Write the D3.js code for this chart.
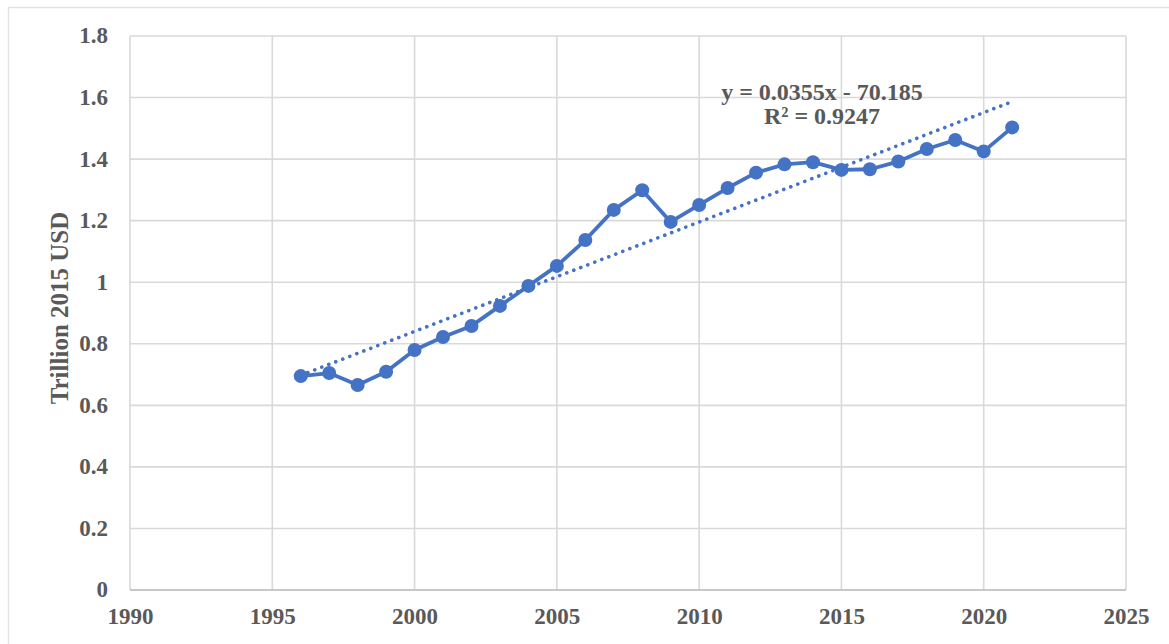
<!DOCTYPE html>
<html>
<head>
<meta charset="utf-8">
<script src="https://cdn.jsdelivr.net/npm/d3@7"></script>
<style>
  body { margin: 0; background: #fff; }
  text { font-family: "Liberation Serif", "Times New Roman", serif; font-weight: bold; fill: #595959; }
</style>
</head>
<body>
<div id="root"></div>
<script>
const years = [1996, 1997, 1998, 1999, 2000, 2001, 2002, 2003, 2004, 2005, 2006, 2007, 2008,
	2009, 2010, 2011, 2012, 2013, 2014, 2015, 2016, 2017, 2018, 2019, 2020, 2021];
const values = [0.695, 0.705, 0.666, 0.709, 0.780, 0.822, 0.858, 0.923, 0.988, 1.053, 1.137, 1.235, 1.299,
	1.196, 1.251, 1.306, 1.356, 1.383, 1.390, 1.365, 1.367, 1.392, 1.433, 1.462, 1.425, 1.503];
const xTicks = [1990, 1995, 2000, 2005, 2010, 2015, 2020, 2025];
const yTicks = [0, 0.2, 0.4, 0.6, 0.8, 1, 1.2, 1.4, 1.6, 1.8];
const equationLines = ["y = 0.0355x - 70.185", "R² = 0.9247"];

const data = years.map((yr, i) => ({ year: yr, value: values[i] }));

const svg = d3.select("#root").append("svg").attr("width", 1169).attr("height", 644),
	margin = { top: 36, right: 43, bottom: 54, left: 130 },
	width = 1169 - margin.left - margin.right,
	height = 644 - margin.top - margin.bottom;

// outer chart frame
svg.append("rect")
	.attr("x", 8.5).attr("y", 7.5)
	.attr("width", 1180).attr("height", 660)
	.attr("fill", "none").attr("stroke", "#e3e3e3").attr("stroke-width", 1.5);

const g = svg.append("g").attr("transform", `translate(${margin.left},${margin.top})`);

const x = d3.scaleLinear().domain([1990, 2025]).range([0, width]);
const y = d3.scaleLinear().domain([0, 1.8]).range([height, 0]);

// gridlines
g.append("g")
	.selectAll("line.h")
	.data(yTicks)
	.join("line")
	.attr("x1", 0).attr("x2", width)
	.attr("y1", (d) => y(d)).attr("y2", (d) => y(d))
	.attr("stroke", "#d9d9d9").attr("stroke-width", 1.6);

g.append("g")
	.selectAll("line.v")
	.data(xTicks)
	.join("line")
	.attr("x1", (d) => x(d)).attr("x2", (d) => x(d))
	.attr("y1", 0).attr("y2", height)
	.attr("stroke", "#d9d9d9").attr("stroke-width", 1.6);

// bottom axis line
g.append("line")
	.attr("x1", 0).attr("x2", width)
	.attr("y1", height).attr("y2", height)
	.attr("stroke", "#c8c8c8").attr("stroke-width", 1.8);

// axes labels
const yAxis = g.append("g")
	.call(d3.axisLeft(y).tickValues(yTicks).tickSize(0).tickPadding(22).tickFormat((d) => d3.format("~g")(d)));
yAxis.select(".domain").remove();
yAxis.selectAll("text").style("font-size", "23px").attr("dy", "0.3em");

const xAxis = g.append("g")
	.attr("transform", `translate(0,${height})`)
	.call(d3.axisBottom(x).tickValues(xTicks).tickSize(0).tickPadding(18).tickFormat(d3.format("d")));
xAxis.select(".domain").remove();
xAxis.selectAll("text").style("font-size", "23px");

svg.append("text")
	.attr("transform", `translate(68,308) rotate(-90)`)
	.attr("text-anchor", "middle")
	.style("font-size", "25px")
	.text("Trillion 2015 USD");

// linear trend (least squares, like Excel's trendline)
const mx = d3.mean(data, (d) => d.year), my = d3.mean(data, (d) => d.value);
const slope = d3.sum(data, (d) => (d.year - mx) * (d.value - my)) / d3.sum(data, (d) => (d.year - mx) ** 2);
const intercept = my - slope * mx;
const trend = [years[0], years[years.length - 1]].map((yr) => ({ year: yr, value: slope * yr + intercept }));

const line = d3.line().x((d) => x(d.year)).y((d) => y(d.value));

g.append("path")
	.datum(trend)
	.attr("d", line)
	.attr("fill", "none")
	.attr("stroke", "#4472C4")
	.attr("stroke-width", 3.6)
	.attr("stroke-linecap", "round")
	.attr("stroke-dasharray", "0.1 7.4");

g.append("path")
	.datum(data)
	.attr("d", line)
	.attr("fill", "none")
	.attr("stroke", "#4472C4")
	.attr("stroke-width", 3.8)
	.attr("stroke-linejoin", "round");

g.append("g")
	.selectAll("circle")
	.data(data)
	.join("circle")
	.attr("cx", (d) => x(d.year))
	.attr("cy", (d) => y(d.value))
	.attr("r", 7)
	.attr("fill", "#4472C4");

// equation label
const eq = svg.append("text")
	.attr("text-anchor", "middle")
	.style("font-size", "24px");
eq.selectAll("tspan")
	.data(equationLines)
	.join("tspan")
	.attr("x", 822)
	.attr("y", (d, i) => 100 + i * 24)
	.text((d) => d);
</script>
</body>
</html>
